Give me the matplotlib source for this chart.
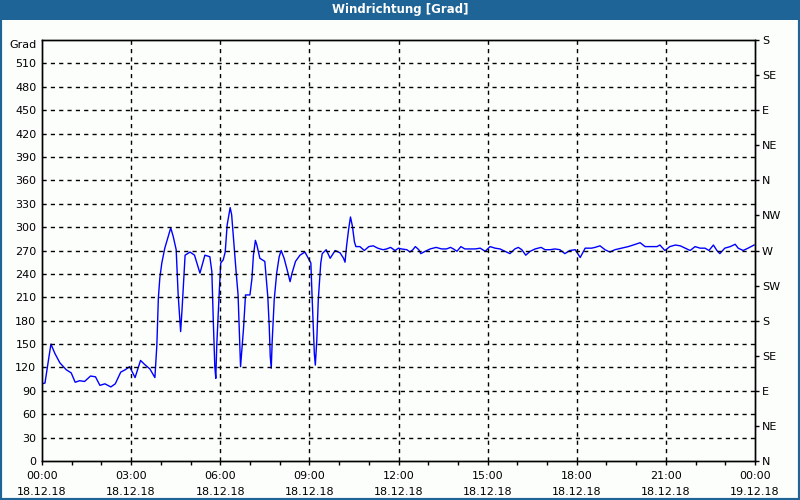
import matplotlib
matplotlib.use("Agg")
import matplotlib.pyplot as plt
import matplotlib.patches as patches

# minutes after 18.12.18 00:00 and wind direction in degrees
minutes = [0, 6, 18, 26, 36, 49, 59, 67, 76, 86, 98, 108, 117, 127, 139, 148,
           159, 168, 177, 188, 199, 207, 218, 228, 232, 235, 238, 242, 248, 255,
           260, 265, 271, 275, 279, 280, 283, 289, 299, 308, 319, 329, 339, 343,
           346, 349, 351, 353, 358, 361, 366, 370, 374, 380, 383, 388, 392, 396,
           400, 401, 407, 411, 420, 424, 427, 431, 434, 440, 450, 456, 459, 461,
           463, 465, 469, 474, 479, 483, 489, 496, 501, 505, 512, 521, 531, 538,
           543, 545, 548, 550, 552, 555, 558, 563, 566, 574, 582, 592, 602, 609,
           612, 615, 619, 623, 627, 631, 634, 642, 651, 660, 669, 678, 683, 689,
           696, 704, 713, 720, 726, 737, 743, 749, 754, 761, 765, 774, 784, 796,
           807, 817, 825, 831, 838, 846, 854, 865, 875, 885, 895, 905, 915, 925,
           935, 945, 955, 962, 969, 977, 986, 996, 1008, 1016, 1026, 1036, 1046,
           1056, 1066, 1077, 1087, 1097, 1110, 1117, 1127, 1137, 1147, 1157, 1171,
           1184, 1194, 1208, 1218, 1232, 1242, 1248, 1258, 1268, 1279, 1289, 1299,
           1309, 1319, 1329, 1339, 1347, 1356, 1363, 1369, 1379, 1390, 1400, 1406,
           1416, 1426, 1438]
direction = [99, 100, 150, 138, 126, 117, 113, 101, 103, 102, 109, 108, 97, 99, 95, 99,
             114, 117, 121, 107, 129, 124, 118, 107, 149, 209, 235, 254, 273, 288,
             299, 288, 271, 213, 177, 166, 196, 264, 268, 264, 241, 264, 262, 243,
             179, 121, 106, 149, 217, 254, 258, 268, 303, 325, 316, 275, 243, 213,
             136, 121, 170, 213, 213, 234, 264, 283, 277, 260, 256, 211, 172, 134,
             119, 155, 207, 241, 262, 270, 260, 243, 230, 241, 256, 264, 268, 260,
             254, 219, 172, 138, 123, 155, 207, 254, 266, 271, 260, 270, 267, 260,
             255, 275, 296, 313, 301, 281, 275, 275, 270, 275, 276, 273, 272, 271,
             272, 274, 270, 273, 272, 271, 268, 271, 275, 271, 266, 269, 272, 274,
             272, 272, 274, 272, 269, 275, 272, 272, 272, 273, 269, 275, 273, 272,
             269, 266, 272, 274, 271, 264, 269, 272, 274, 271, 271, 272, 271,
             266, 270, 271, 261, 273, 273, 274, 276, 271, 268, 271, 273,
             275, 277, 280, 275, 275, 275, 277, 270, 275, 277, 276, 273,
             270, 275, 273, 273, 270, 277, 270, 266, 273, 275, 278, 273,
             270, 273, 277]

x_ticks = [0, 180, 360, 540, 720, 900, 1080, 1260, 1440]
x_labels = ["00:00\n18.12.18", "03:00\n18.12.18", "06:00\n18.12.18", "09:00\n18.12.18",
            "12:00\n18.12.18", "15:00\n18.12.18", "18:00\n18.12.18", "21:00\n18.12.18",
            "00:00\n19.12.18"]
y_ticks = list(range(0, 511, 30))
compass_ticks = list(range(0, 541, 45))
compass_labels = ["N", "NE", "E", "SE", "S", "SW", "W", "NW", "N", "NE", "E", "SE", "S"]

bg = "#fcfefc"
frame_blue = "#1e6496"

fig = plt.figure(figsize=(8, 5), dpi=100, facecolor=bg)
ax = fig.add_axes([42 / 800, 39 / 500, 713 / 800, 421 / 500])
ax.set_facecolor(bg)

ax.plot(minutes, direction, color="#0000ff", linewidth=1)

ax.set_xlim(0, 1440)
ax.set_ylim(0, 540)

ax.set_xticks(x_ticks)
ax.set_xticklabels(x_labels, fontsize=8, linespacing=1.75)
ax.set_xticks(range(0, 1441, 60), minor=True)
ax.tick_params(axis="x", which="both", direction="out", length=3, width=1, pad=4)

ax.set_yticks(y_ticks)
ax.set_yticklabels([str(v) for v in y_ticks], fontsize=8)
ax.tick_params(axis="y", length=0, pad=4)

for x in x_ticks[1:-1]:
    ax.axvline(x, color="black", linestyle=(0, (3, 3)), linewidth=1)
for y in y_ticks[1:]:
    ax.axhline(y, color="black", linestyle=(0, (3, 3)), linewidth=1)

ax2 = ax.twinx()
ax2.set_ylim(0, 540)
ax2.set_yticks(compass_ticks)
ax2.set_yticklabels(compass_labels, fontsize=8)
ax2.tick_params(axis="y", direction="out", length=3, width=1, pad=2)

for a in (ax, ax2):
    for s in a.spines.values():
        s.set_color("black")
        s.set_linewidth(1)

fig.text(37 / 800, 1 - 45 / 500, "Grad", ha="right", va="center", fontsize=8)

# title bar and window frame
fig.patches.append(patches.Rectangle((0, 1 - 20 / 500), 1, 20 / 500, transform=fig.transFigure,
                                     facecolor=frame_blue, edgecolor="none"))
fig.patches.append(patches.Rectangle((0, 0), 1, 1, transform=fig.transFigure,
                                     facecolor="none", edgecolor=frame_blue, linewidth=3))
fig.text(0.5, 1 - 10 / 500, "Windrichtung [Grad]", ha="center", va="center",
         color="white", fontsize=8.5, fontweight="bold")

fig.savefig("out.png", dpi=100, facecolor=bg)
